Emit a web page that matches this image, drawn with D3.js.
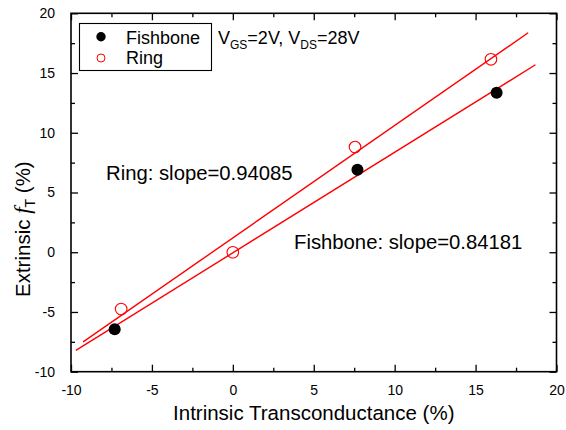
<!DOCTYPE html>
<html>
<head>
<meta charset="utf-8">
<script src="https://cdn.jsdelivr.net/npm/d3@7"></script>
<style>
  html, body { margin: 0; padding: 0; background: #fff; }
  svg { display: block; font-family: "Liberation Sans", Arial, Helvetica, sans-serif; }
</style>
</head>
<body>
<svg id="chart" width="566" height="430"></svg>
<script>
// ---- data ----
const fishboneX = [-7.3, 7.7, 16.3];
const fishboneY = [-6.45, 6.9, 13.35];
const ringX = [-6.9, 0, 7.55, 15.95];
const ringY = [-4.75, 0, 8.8, 16.15];

const fitNames = ["Ring", "Fishbone"];
const fitSlopes = [0.94085, 0.84181];
const fitIntercepts = [1.2, -0.05];
const fitXStart = [-9.25, -9.7];
const fitXEnd = [18.25, 18.7];

const xTicks = [-10, -5, 0, 5, 10, 15, 20];
const yTicks = [-10, -5, 0, 5, 10, 15, 20];
const xMinorTicks = [-7.5, -2.5, 2.5, 7.5, 12.5, 17.5];
const yMinorTicks = [-7.5, -2.5, 2.5, 7.5, 12.5, 17.5];

const legendLabels = ["Fishbone", "Ring"];

// ---- layout ----
const svg = d3.select("#chart");
const L = 71, R = 556.5, T = 13.3, B = 371.7;
const x = d3.scaleLinear().domain([-10, 20]).range([L, R]);
const y = d3.scaleLinear().domain([-10, 20]).range([B, T]);

const tickFont = "14px";
const fmt = d => String(d); // plain hyphen-minus like the reference

function styleAxis(g) {
  g.select(".domain").remove();
  g.selectAll(".tick line").attr("stroke", "#000").attr("stroke-width", 1.3);
  g.selectAll(".tick text").attr("fill", "#000").style("font-size", tickFont)
    .style("font-family", '"Liberation Sans", Arial, sans-serif');
}

const gxB = svg.append("g").attr("transform", `translate(0,${B})`)
  .call(d3.axisBottom(x).tickValues(xTicks).tickSizeInner(-7).tickSizeOuter(0).tickPadding(13).tickFormat(fmt));
styleAxis(gxB);
const gxBm = svg.append("g").attr("transform", `translate(0,${B})`)
  .call(d3.axisBottom(x).tickValues(xMinorTicks).tickSizeInner(-4).tickSizeOuter(0).tickFormat(""));
styleAxis(gxBm);

const gxT = svg.append("g").attr("transform", `translate(0,${T})`)
  .call(d3.axisTop(x).tickValues(xTicks).tickSizeInner(-7).tickSizeOuter(0).tickFormat(""));
styleAxis(gxT);
const gxTm = svg.append("g").attr("transform", `translate(0,${T})`)
  .call(d3.axisTop(x).tickValues(xMinorTicks).tickSizeInner(-4).tickSizeOuter(0).tickFormat(""));
styleAxis(gxTm);

const gyL = svg.append("g").attr("transform", `translate(${L},0)`)
  .call(d3.axisLeft(y).tickValues(yTicks).tickSizeInner(-7).tickSizeOuter(0).tickPadding(16).tickFormat(fmt));
styleAxis(gyL);
const gyLm = svg.append("g").attr("transform", `translate(${L},0)`)
  .call(d3.axisLeft(y).tickValues(yMinorTicks).tickSizeInner(-4).tickSizeOuter(0).tickFormat(""));
styleAxis(gyLm);

const gyR = svg.append("g").attr("transform", `translate(${R},0)`)
  .call(d3.axisRight(y).tickValues(yTicks).tickSizeInner(-7).tickSizeOuter(0).tickFormat(""));
styleAxis(gyR);
const gyRm = svg.append("g").attr("transform", `translate(${R},0)`)
  .call(d3.axisRight(y).tickValues(yMinorTicks).tickSizeInner(-4).tickSizeOuter(0).tickFormat(""));
styleAxis(gyRm);

// frame
svg.append("rect").attr("x", L).attr("y", T).attr("width", R - L).attr("height", B - T)
  .attr("fill", "none").attr("stroke", "#000").attr("stroke-width", 1.6);

// fit lines
fitNames.forEach((n, i) => {
  const pts = [fitXStart[i], fitXEnd[i]].map(xv => [xv, fitSlopes[i] * xv + fitIntercepts[i]]);
  svg.append("path")
    .attr("d", d3.line().x(d => x(d[0])).y(d => y(d[1]))(pts))
    .attr("fill", "none").attr("stroke", "#ff0000").attr("stroke-width", 1.4);
});

// points
svg.append("g").selectAll("circle").data(fishboneX.map((v, i) => [v, fishboneY[i]]))
  .join("circle").attr("cx", d => x(d[0])).attr("cy", d => y(d[1])).attr("r", 6).attr("fill", "#000");
svg.append("g").selectAll("circle").data(ringX.map((v, i) => [v, ringY[i]]))
  .join("circle").attr("cx", d => x(d[0])).attr("cy", d => y(d[1])).attr("r", 5.8)
  .attr("fill", "none").attr("stroke", "#ff0000").attr("stroke-width", 1.1);

// legend
svg.append("rect").attr("x", 79.5).attr("y", 23.5).attr("width", 132).attr("height", 47)
  .attr("fill", "#fff").attr("stroke", "#000").attr("stroke-width", 1.1);
svg.append("circle").attr("cx", 101).attr("cy", 36.7).attr("r", 4.7).attr("fill", "#000");
svg.append("circle").attr("cx", 101).attr("cy", 58).attr("r", 4).attr("fill", "none")
  .attr("stroke", "#ff0000").attr("stroke-width", 1);
legendLabels.forEach((t, i) => {
  svg.append("text").attr("x", 126).attr("y", 43.5 + i * 20).style("font-size", "18px").text(t);
});

// condition text
const cond = svg.append("text").attr("x", 218).attr("y", 43.5).style("font-size", "18px");
cond.append("tspan").text("V");
cond.append("tspan").attr("dy", 5).style("font-size", "12px").text("GS");
cond.append("tspan").attr("dy", -5).text("=2V, V");
cond.append("tspan").attr("dy", 5).style("font-size", "12px").text("DS");
cond.append("tspan").attr("dy", -5).text("=28V");

// slope annotations
svg.append("text").attr("x", 106).attr("y", 179.5).style("font-size", "20.3px")
  .text(`${fitNames[0]}: slope=${fitSlopes[0].toFixed(5)}`);
svg.append("text").attr("x", 294).attr("y", 248.5).style("font-size", "20.3px")
  .text(`${fitNames[1]}: slope=${fitSlopes[1].toFixed(5)}`);

// axis titles
svg.append("text").attr("x", (L + R) / 2).attr("y", 420).attr("text-anchor", "middle")
  .style("font-size", "20.5px").text("Intrinsic Transconductance (%)");

const yt = svg.append("text").attr("transform", `translate(30,297) rotate(-90)`)
  .attr("text-anchor", "start").style("font-size", "20.5px");
yt.append("tspan").text("Extrinsic ");
yt.append("tspan").style("font-family", '"Liberation Serif", "Times New Roman", serif')
  .style("font-style", "italic").style("font-size", "23px").text("f");
yt.append("tspan").attr("dy", 5).style("font-size", "14px").text("T");
yt.append("tspan").attr("dy", -5).text(" (%)");
</script>
</body>
</html>
